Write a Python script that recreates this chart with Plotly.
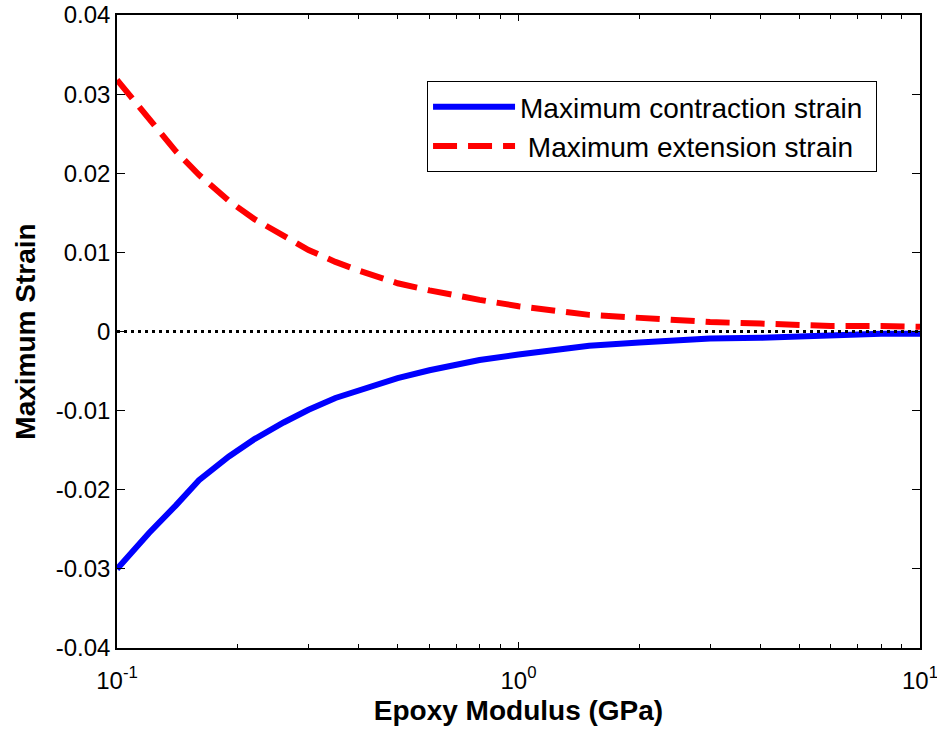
import plotly.graph_objects as go

modulus = [0.1, 0.12, 0.14, 0.16, 0.19, 0.22, 0.26, 0.3, 0.35, 0.4, 0.5, 0.6, 0.8, 1.0,
           1.5, 2, 3, 4, 5, 6, 8, 10]
contraction = [-0.0300, -0.0255, -0.0220, -0.0188, -0.0158, -0.0136, -0.0115, -0.0099,
               -0.0084, -0.0074, -0.0059, -0.0049, -0.0036, -0.0029, -0.0018, -0.0014,
               -0.0009, -0.0008, -0.0006, -0.0005, -0.0003, -0.0003]
extension = [0.0318, 0.0270, 0.0228, 0.0198, 0.0165, 0.0142, 0.0120, 0.0103, 0.0088,
             0.0077, 0.0061, 0.0052, 0.0040, 0.0032, 0.0021, 0.0017, 0.0012, 0.0010,
             0.0008, 0.0007, 0.0007, 0.0006]
zero_x = [0.1, 10]
zero_y = [0, 0]

x_tickvals = [0.1, 1, 10]
x_ticktext = ["10<sup>-1</sup>", "10<sup>0</sup>", "10<sup>1</sup>"]
x_minorvals = [0.2, 0.3, 0.4, 0.5, 0.6, 0.7, 0.8, 0.9, 2, 3, 4, 5, 6, 7, 8, 9]
y_tickvals = [0.04, 0.03, 0.02, 0.01, 0, -0.01, -0.02, -0.03, -0.04]
y_ticktext = ["0.04", "0.03", "0.02", "0.01", "0", "-0.01", "-0.02", "-0.03", "-0.04"]

font = "Liberation Sans, Arial, sans-serif"

fig = go.Figure()
fig.add_trace(go.Scatter(x=modulus, y=contraction, mode="lines",
                         name="Maximum contraction strain ",
                         line=dict(color="#0000ff", width=6)))
fig.add_trace(go.Scatter(x=modulus, y=extension, mode="lines",
                         name=" Maximum extension strain",
                         line=dict(color="#ff0000", width=6, dash="24px,11px")))
fig.add_trace(go.Scatter(x=zero_x, y=zero_y, mode="lines", showlegend=False,
                         line=dict(color="black", width=3, dash="3px,4px")))

fig.update_layout(
    width=937, height=734,
    margin=dict(l=117, r=17, t=15, b=86),
    paper_bgcolor="white", plot_bgcolor="white",
    font=dict(family=font, size=24, color="black"),
    legend=dict(x=0.9465, y=0.8957, xanchor="right", yanchor="top",
                bgcolor="white", bordercolor="black", borderwidth=1,
                font=dict(size=28), itemwidth=82, tracegroupgap=0),
    showlegend=True,
)
fig.update_xaxes(
    type="log", range=[-1, 1], automargin=False,
    tickvals=x_tickvals, ticktext=x_ticktext,
    ticks="inside", ticklen=6, tickcolor="black",
    ticklabelstandoff=10, ticklabeloverflow="allow",
    showline=True, linecolor="black", linewidth=1.5, mirror="ticks",
    showgrid=False, zeroline=False,
    minor=dict(tickvals=x_minorvals, ticks="inside", ticklen=4, tickcolor="black", showgrid=False),
    title=dict(text="<b>Epoxy Modulus (GPa)</b>", font=dict(size=28), standoff=8),
    tickfont=dict(size=24),
)
fig.update_yaxes(
    range=[-0.04, 0.04], automargin=False,
    tickvals=y_tickvals, ticktext=y_ticktext,
    ticks="inside", ticklen=8, tickcolor="black",
    ticklabeloverflow="allow",
    showline=True, linecolor="black", linewidth=1.5, mirror="ticks",
    showgrid=False, zeroline=False,
    title=dict(text="<b>Maximum Strain</b>", font=dict(size=28), standoff=12),
    tickfont=dict(size=24),
)

fig.write_html("out.html")
